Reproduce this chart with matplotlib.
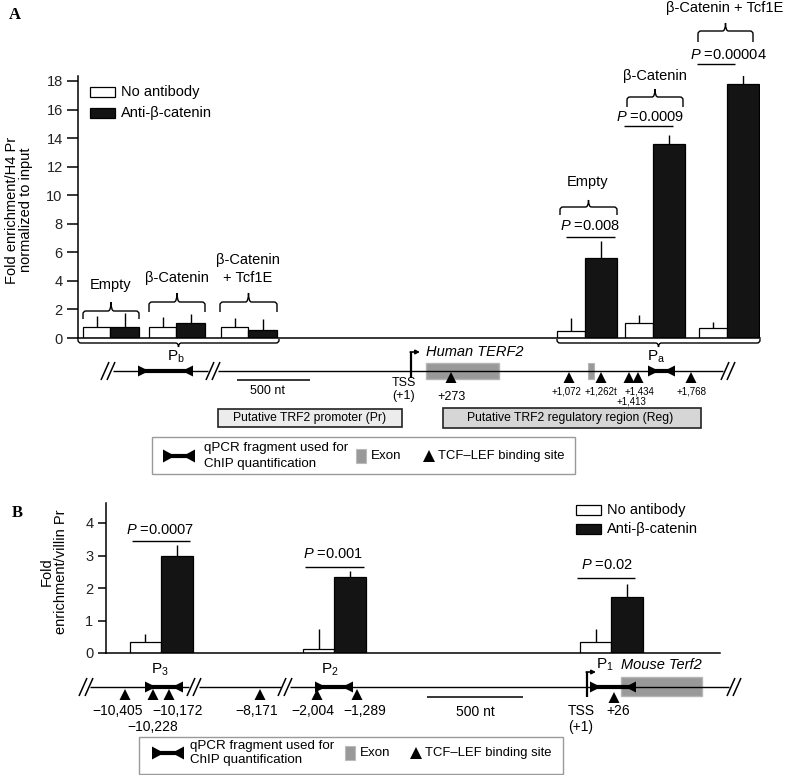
import matplotlib
matplotlib.use("Agg")
import matplotlib.pyplot as plt
from matplotlib.patches import Rectangle, Polygon, PathPatch
from matplotlib.path import Path

plt.rcParams['font.family'] = ['Liberation Sans', 'DejaVu Sans']
plt.rcParams['mathtext.fontset'] = 'custom'
plt.rcParams['mathtext.rm'] = 'Liberation Sans'
plt.rcParams['mathtext.it'] = 'Liberation Sans:italic'

W, H = 788, 775

# ---- panel A data (human TERF2, fold enrichment / H4 Pr) ----
a_groups = ['Empty', 'β-Catenin', 'β-Catenin\n+ Tcf1E']
pb_noab = [0.77, 0.77, 0.77]
pb_noab_err = [0.74, 0.70, 0.63]
pb_anti = [0.77, 1.07, 0.56]
pb_anti_err = [0.98, 0.61, 0.77]
pa_noab = [0.49, 1.05, 0.73]
pa_noab_err = [0.91, 0.59, 0.37]
pa_anti = [5.63, 13.62, 17.82]
pa_anti_err = [1.17, 0.63, 0.68]
pa_pvals = ['0.008', '0.0009', '0.00004']
a_yticks = [0, 2, 4, 6, 8, 10, 12, 14, 16, 18]

# ---- panel B data (mouse Terf2, fold enrichment / villin Pr) ----
b_sites = ['3', '2', '1']
b_noab = [0.33, 0.13, 0.34]
b_noab_err = [0.25, 0.60, 0.39]
b_anti = [2.98, 2.35, 1.73]
b_anti_err = [0.34, 0.18, 0.38]
b_pvals = ['0.0007', '0.001', '0.02']
b_yticks = [0, 1, 2, 3, 4]

# diagram annotations
a_sites = ['+1,072', '+1,262t', '+1,434', '+1,413', '+1,768']
b_sites_lbl = ['−10,405', '−10,172', '−10,228', '−8,171', '−2,004', '−1,289']

fig = plt.figure(figsize=(W / 100, H / 100), dpi=100)


def px_axes(x0, x1, ytop, ybot):
    return fig.add_axes([x0 / W, 1 - ybot / H, (x1 - x0) / W, (ybot - ytop) / H])


def style_axes(ax, ticks, ticklen):
    for s in ['top', 'right']:
        ax.spines[s].set_visible(False)
    ax.spines['left'].set_linewidth(1.1)
    ax.spines['bottom'].set_linewidth(1.1)
    ax.set_facecolor('none')
    ax.set_xticks([])
    ax.set_yticks(ticks)
    ax.tick_params(axis='y', direction='out', length=ticklen, width=1.1,
                   labelsize=10.5, pad=3, labelcolor='#222222')


def pair_bars(ax, joins, wl, wr, noab, noab_err, anti, anti_err):
    xl = [j - wl / 2 for j in joins]
    xr = [j + wr / 2 for j in joins]
    ax.bar(xl, noab, width=wl, color='white', edgecolor='black', linewidth=0.9, zorder=2)
    ax.bar(xr, anti, width=wr, color='#141414', edgecolor='black', linewidth=0.9, zorder=2)
    ax.errorbar(xl, noab, yerr=[[0] * len(noab), noab_err], fmt='none',
                ecolor='black', elinewidth=1, capsize=0, zorder=1)
    ax.errorbar(xr, anti, yerr=[[0] * len(anti), anti_err], fmt='none',
                ecolor='black', elinewidth=1, capsize=0, zorder=1)


# ---------------- panel A chart ----------------
axA = px_axes(78, 760, 76, 338)
style_axes(axA, a_yticks, 8)
axA.set_xlim(78, 760)
axA.set_ylim(0, (338 - 76) / 14.28)
pair_bars(axA, [110, 176, 248], 27, 29, pb_noab, pb_noab_err, pb_anti, pb_anti_err)
pair_bars(axA, [585, 653, 727], 28, 32, pa_noab, pa_noab_err, pa_anti, pa_anti_err)

# ---------------- panel B chart ----------------
axB = px_axes(106, 720, 503, 653)
style_axes(axB, b_yticks, 6)
axB.set_xlim(106, 720)
axB.set_ylim(0, 150 / 32.5)
pair_bars(axB, [161, 334, 611], 31, 32, b_noab, b_noab_err, b_anti, b_anti_err)

# ---------------- overlay in pixel coordinates ----------------
ov = fig.add_axes([0, 0, 1, 1], zorder=5)
ov.set_xlim(0, W)
ov.set_ylim(H, 0)
ov.axis('off')
ov.patch.set_alpha(0)


def txt(x, y, s, size=10.5, **kw):
    kw.setdefault('ha', 'center')
    kw.setdefault('va', 'center')
    ov.text(x, y, s, fontsize=size, color='black', **kw)


def line(xs, ys, lw=1.0, color='black'):
    ov.plot(xs, ys, color=color, lw=lw, solid_capstyle='butt')


def brace(x0, x1, y, hook, cusp, r=3, lw=1.0):
    s = 1 if hook > 0 else -1
    hook = abs(hook)
    xm = (x0 + x1) / 2
    verts = [(x0, y + s * hook), (x0, y + s * r), (x0, y), (x0 + r, y),
             (xm - r, y), (xm, y), (xm, y - s * cusp),
             (xm, y), (xm + r, y), (x1 - r, y),
             (x1, y), (x1, y + s * r), (x1, y + s * hook)]
    codes = [Path.MOVETO, Path.LINETO, Path.CURVE3, Path.CURVE3,
             Path.LINETO, Path.CURVE3, Path.CURVE3,
             Path.CURVE3, Path.CURVE3, Path.LINETO,
             Path.CURVE3, Path.CURVE3, Path.LINETO]
    ov.add_patch(PathPatch(Path(verts, codes), fill=False, lw=lw, ec='black'))


def slashes(cx, y):
    for dx in (-3, 3):
        line([cx + dx - 4, cx + dx + 4], [y + 9, y - 9], lw=1.1)


def bowtie(x0, x1, y, h=11, tw=11):
    ov.add_patch(Polygon([(x0, y - h / 2), (x0, y + h / 2), (x0 + tw, y)], color='black', lw=0))
    ov.add_patch(Polygon([(x1, y - h / 2), (x1, y + h / 2), (x1 - tw, y)], color='black', lw=0))
    line([x0 + tw / 2, x1 - tw / 2], [y, y], lw=3)


def tri(x, ytop, w=11, h=11):
    ov.add_patch(Polygon([(x, ytop), (x - w / 2, ytop + h), (x + w / 2, ytop + h)],
                         color='black', lw=0))


def tss(x, ytop, ybot):
    line([x, x], [ytop, ybot], lw=1.6)
    ov.annotate('', xy=(x + 9, ytop), xytext=(x - 0.8, ytop),
                arrowprops=dict(arrowstyle='-|>', lw=1.2, color='black',
                                mutation_scale=6, shrinkA=0, shrinkB=0))


def pline(x0, x1, y, xt, yt, p):
    line([x0, x1], [y, y], lw=1.0)
    txt(xt, yt, r'$P$ =' + p, size=10.5)


def legend_box(x0, x1, y0, y1, yc, xs):
    ov.add_patch(Rectangle((x0, y0), x1 - x0, y1 - y0, fill=False, ec='#9a9a9a', lw=1))
    bowtie(xs[0], xs[0] + 32, yc, h=13, tw=12)
    txt(xs[1], yc - 7.5, 'qPCR fragment used for', size=9.6, ha='left')
    txt(xs[1], yc + 7.5, 'ChIP quantification', size=9.6, ha='left')
    ov.add_patch(Rectangle((xs[2], yc - 7), 10, 14, fc='#999999', ec='#bbbbbb', lw=0.8))
    txt(xs[2] + 15, yc, 'Exon', size=9.6, ha='left')
    tri(xs[3], yc - 6, w=12, h=12)
    txt(xs[3] + 9, yc, 'TCF–LEF binding site', size=9.4, ha='left')


def bar_legend(x, y1, y2):
    ov.add_patch(Rectangle((x, y1 - 5), 25, 10, fc='white', ec='black', lw=0.9))
    ov.add_patch(Rectangle((x, y2 - 5), 25, 10, fc='#141414', ec='black', lw=0.9))
    txt(x + 31, y1, 'No antibody', ha='left')
    txt(x + 31, y2, 'Anti-β-catenin', ha='left')


# panel letters
ov.text(15, 15, 'A', fontsize=12, fontweight='bold', family='Liberation Serif', ha='center', va='center')
ov.text(17, 513, 'B', fontsize=12, fontweight='bold', family='Liberation Serif', ha='center', va='center')

# axis titles
txt(19, 210, 'Fold enrichment/H4 Pr\nnormalized to input', size=10.5, rotation=90,
    multialignment='center', linespacing=1.05)
txt(54, 572, 'Fold\nenrichment/villin Pr', size=10.5, rotation=90,
    multialignment='center', linespacing=1.05)

bar_legend(90, 92, 113)
bar_legend(576, 510, 529)

# ---- panel A braces and labels ----
brace(83, 139, 311, 8, 9)
txt(111, 285, a_groups[0])
brace(149, 205, 302, 10, 9)
txt(177, 278, a_groups[1])
brace(220, 277, 302, 10, 9)
txt(248, 260, 'β-Catenin')
txt(248, 278, '+ Tcf1E')

brace(560, 617, 207, 8, 7)
txt(588, 182, a_groups[0])
brace(627, 683, 97, 10, 8)
txt(655, 76, a_groups[1])
brace(698, 753, 31, 11, 8)
txt(725, 8, a_groups[2].replace('\n', ' '))
pline(566, 615, 237, 590, 226, pa_pvals[0])
pline(624, 673, 126, 650, 117, pa_pvals[1])
pline(697, 735, 64, 728, 55, pa_pvals[2])

# brackets below the x axis
brace(78, 279, 343, -4, 4)
brace(557, 760, 343, -4, 4)

# ---- diagram A ----
yA = 371
slashes(108, yA)
slashes(213, yA)
slashes(728, yA)
line([113, 208], [yA, yA])
line([218, 723], [yA, yA])
bowtie(138, 193, yA)
txt(176, 357, r'P$_{\mathrm{b}}$', size=11)
bowtie(648, 675, yA)
txt(656, 357, r'P$_{\mathrm{a}}$', size=11)
line([237, 310], [380, 380], lw=1.1)
txt(268, 391, '500 nt', size=9)
ov.add_patch(Rectangle((426, 363), 73, 16, fc='#999999', ec='#b5b5b5', lw=1))
ov.add_patch(Rectangle((588, 363), 6, 16, fc='#999999', ec='#b5b5b5', lw=0.8))
tss(411, 352, 378)
txt(426, 352, 'Human TERF2', size=10.5, style='italic', ha='left')
txt(404, 383, 'TSS', size=9)
txt(404, 396, '(+1)', size=9)
for x in [451, 569, 601, 629, 638, 691]:
    tri(x, yA + 1)
txt(451, 397, '+273', size=9)
for x, y, s in zip([566, 601, 639, 631, 692], [392, 392, 392, 402, 392], a_sites):
    txt(x, y, s, size=7)
ov.add_patch(Rectangle((218, 409), 184, 18, fc='#ececec', ec='#222222', lw=1.2))
txt(310, 418, 'Putative TRF2 promoter (Pr)', size=8.7)
ov.add_patch(Rectangle((443, 408), 258, 20, fc='#d6d6d6', ec='#222222', lw=1.2))
txt(570, 418, 'Putative TRF2 regulatory region (Reg)', size=8.7)
legend_box(152, 575, 437, 474, 456, [163, 204, 356, 429])

# ---- panel B annotations ----
pline(132, 190, 541, 160, 530, b_pvals[0])
pline(305, 364, 567, 333, 554, b_pvals[1])
pline(577, 635, 578, 607, 565, b_pvals[2])
txt(160, 670, r'P$_{' + b_sites[0] + '}$', size=11)
txt(330, 670, r'P$_{' + b_sites[1] + '}$', size=11)
txt(605, 665, r'P$_{' + b_sites[2] + '}$', size=11)
txt(621, 665, 'Mouse Terf2', size=10.5, style='italic', ha='left')

# ---- diagram B ----
yB = 687
slashes(86, yB)
slashes(194, yB)
slashes(285, yB)
slashes(734, yB)
line([90, 189], [yB, yB])
line([199, 281], [yB, yB])
line([290, 729], [yB, yB])
bowtie(145, 183, yB)
bowtie(315, 353, yB)
ov.add_patch(Rectangle((621, 677), 81, 19, fc='#999999', ec='#b5b5b5', lw=1))
bowtie(590, 636, yB)
tss(587, 672, 697)
for x in [125, 153, 169, 260, 317, 357]:
    tri(x, yB + 2)
tri(614, 692)
line([427, 523], [697, 697], lw=1.1)
for x, y, s in zip([118, 178, 153, 257, 313, 365], [711, 711, 727, 711, 711, 711], b_sites_lbl):
    txt(x, y, s, size=10)
txt(475, 712, '500 nt', size=10)
txt(581, 711, 'TSS', size=10)
txt(581, 727, '(+1)', size=10)
txt(618, 711, '+26', size=10)
legend_box(139, 563, 737, 774, 753, [152, 190, 345, 416])

fig.savefig('out.png', dpi=100)
